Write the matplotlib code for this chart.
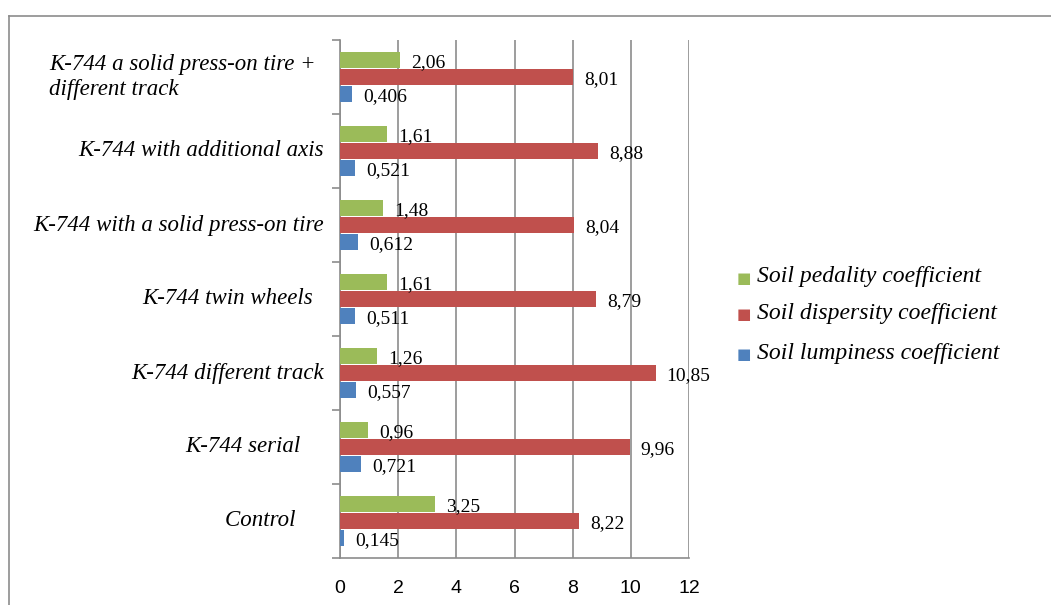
import matplotlib.pyplot as plt
from matplotlib.lines import Line2D
import numpy as np

categories = ['K-744 a solid press-on tire +\ndifferent track',
              'K-744 with additional axis',
              'K-744 with a solid press-on tire',
              'K-744 twin wheels  ',
              'K-744 different track',
              'K-744 serial    ',
              'Control     ']
pedality = [2.06, 1.61, 1.48, 1.61, 1.26, 0.96, 3.25]
dispersity = [8.01, 8.88, 8.04, 8.79, 10.85, 9.96, 8.22]
lumpiness = [0.406, 0.521, 0.612, 0.511, 0.557, 0.721, 0.145]
series_names = ['Soil pedality coefficient', 'Soil dispersity coefficient',
                'Soil lumpiness coefficient']
colors = ['#9BBB59', '#C0504D', '#4F81BD']

serif = 'Liberation Serif'

fig = plt.figure(figsize=(10.51, 6.05), dpi=100)
ax = fig.add_axes([340 / 1051, 1 - 558 / 605, 349 / 1051, 518 / 605])

# outer frame of the chart area
fig.add_artist(Line2D([9 / 1051, 9 / 1051], [0, 1 - 16 / 605], color='#8c8c8c', lw=1.2,
                      transform=fig.transFigure))
fig.add_artist(Line2D([9 / 1051, 1], [1 - 16 / 605, 1 - 16 / 605], color='#8c8c8c', lw=1.2,
                      transform=fig.transFigure))

y = np.arange(len(categories))[::-1]
h = 0.215
off = 0.23
for vals, dy, c in zip([pedality, dispersity, lumpiness], [off, 0, -off], colors):
    ax.barh(y + dy, vals, height=h, color=c, zorder=3)
    for v, yy in zip(vals, y + dy):
        ax.annotate(f'{v:g}'.replace('.', ','), (v, yy), xytext=(8, -2),
                    textcoords='offset points', va='center', ha='left',
                    fontsize=14, family=serif, zorder=4)

ax.set_xlim(0, 12)
ax.set_ylim(-0.5, len(categories) - 0.5)
ax.set_xticks(range(0, 13, 2))
ax.tick_params(axis='x', length=0, pad=16, labelsize=14)
for lab in ax.get_xticklabels():
    lab.set_family('Liberation Sans')
ax.grid(axis='x', color='#8c8c8c', lw=1.2, zorder=0)

ax.set_yticks(np.arange(-0.5, len(categories), 1))
ax.set_yticklabels([])
ax.tick_params(axis='y', length=6, width=1.2, color='#8c8c8c', direction='out')
for yy, name in zip(y, categories):
    if '\n' in name:
        ax.text(-10.0, yy, name, ha='left', va='center', fontsize=16.5, family=serif,
                style='italic', linespacing=1.3)
    else:
        ax.text(-0.55, yy, name, ha='right', va='center', fontsize=16.5, family=serif,
                style='italic')

for s in ['top', 'right']:
    ax.spines[s].set_visible(False)
ax.spines['bottom'].set_color('#8c8c8c')
ax.spines['left'].set_color('#8c8c8c')
ax.spines['bottom'].set_linewidth(1.2)
ax.spines['left'].set_linewidth(1.2)

# legend
ly = [1 - 277 / 605, 1 - 313 / 605, 1 - 353 / 605]
for name, c, yy in zip(series_names, colors, ly):
    fig.text(744 / 1051, yy - 0.003, '\u25A0', color=c, fontsize=11, ha='center', va='center')
    fig.text(757 / 1051, yy, name, fontsize=17, family=serif, style='italic',
             va='center', ha='left')

fig.savefig('out.png', dpi=100)
